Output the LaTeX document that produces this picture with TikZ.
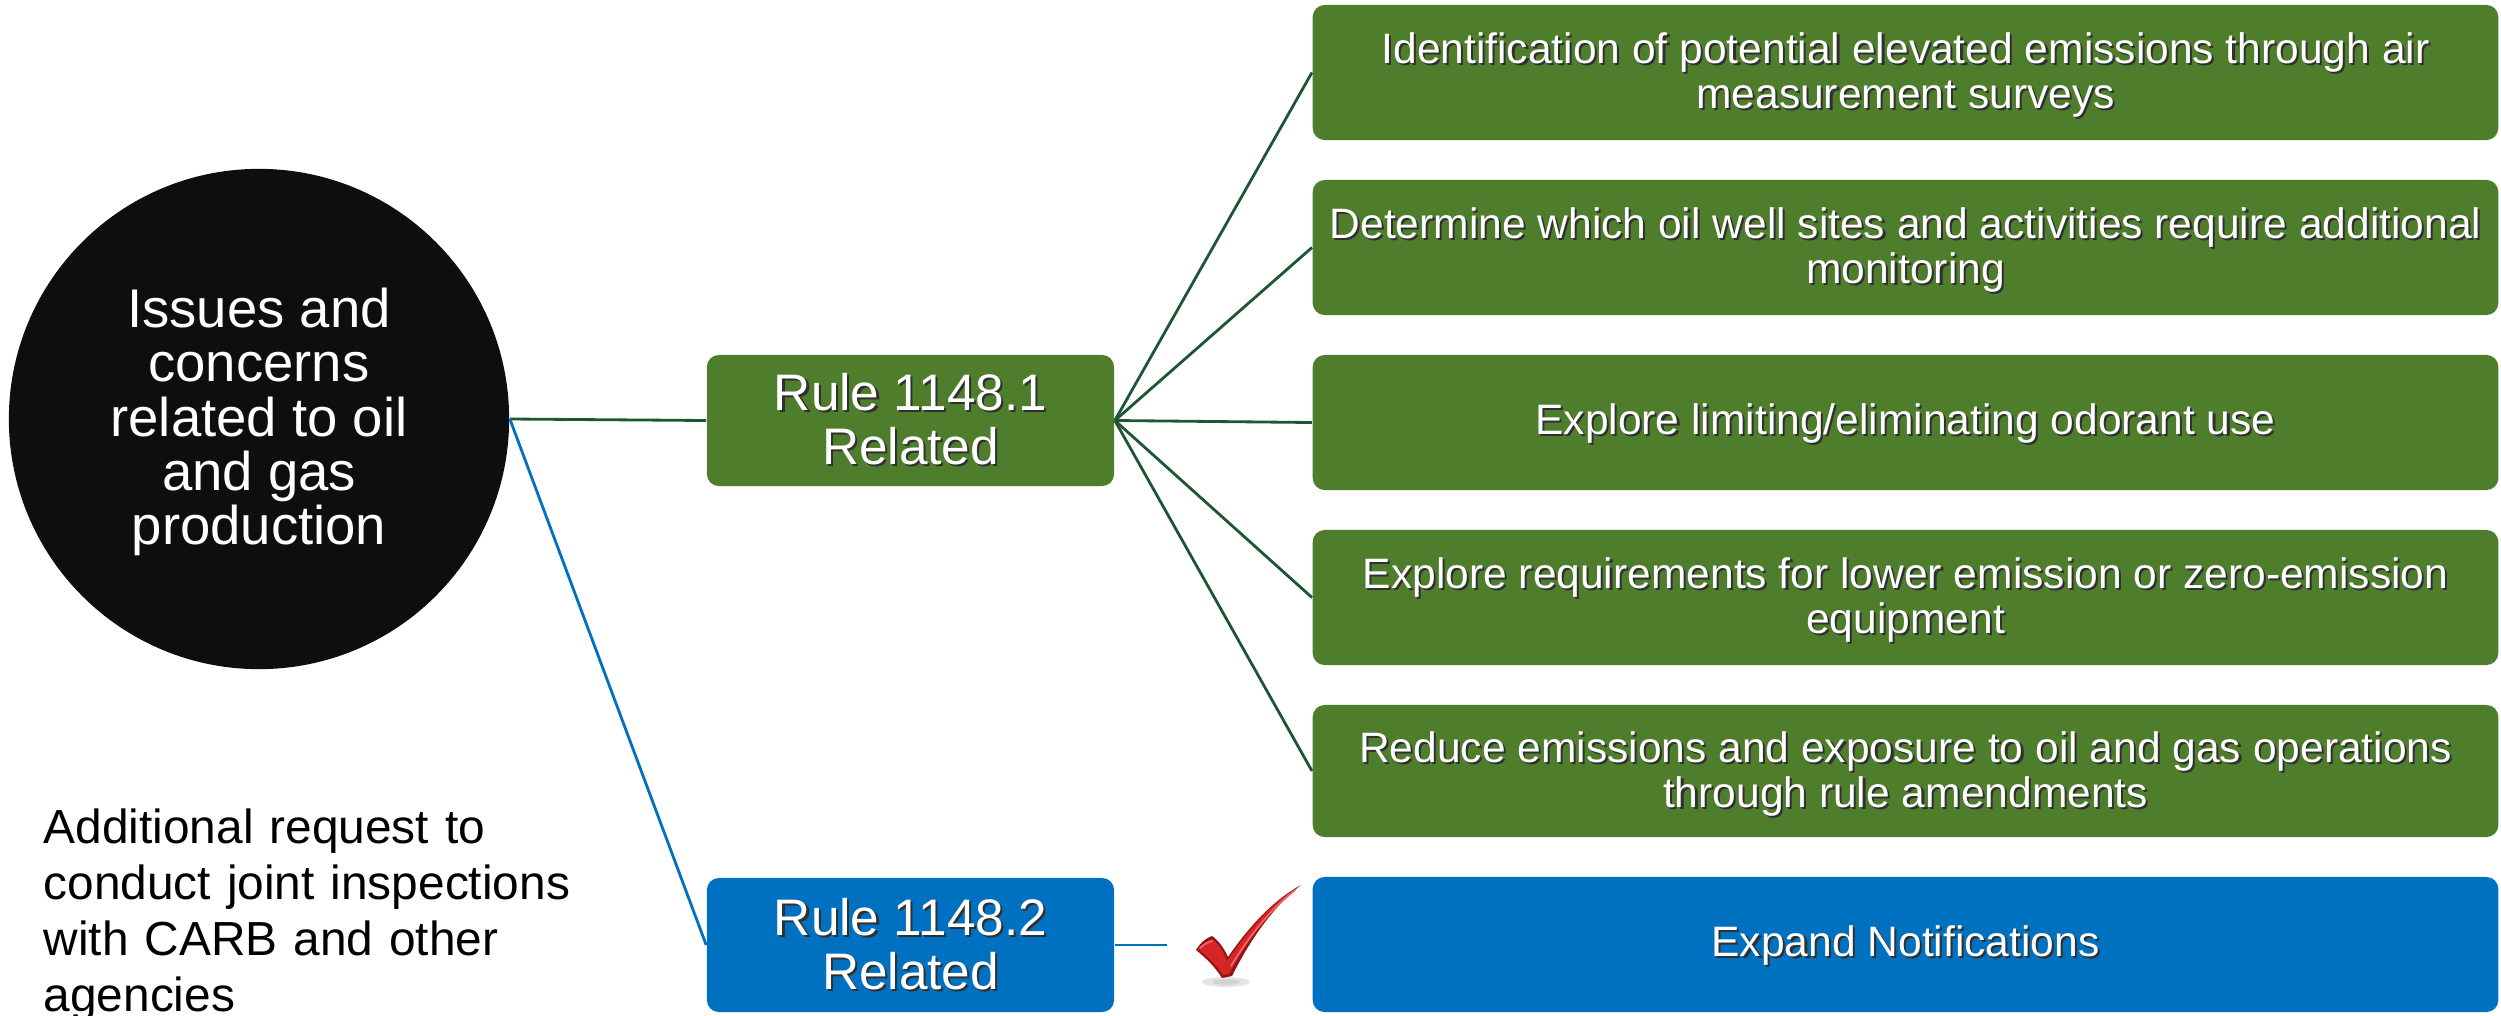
\documentclass[tikz,border=0pt]{standalone}
\usepackage{fontspec}
\setmainfont{Liberation Sans}
\definecolor{boxgreen}{HTML}{4E7D2C}
\definecolor{linegreen}{HTML}{1E5634}
\definecolor{boxblue}{HTML}{0070C0}
\definecolor{circblack}{HTML}{0E0E0E}
\definecolor{shdcol}{HTML}{303030}
\definecolor{chkred}{HTML}{D42626}
\definecolor{chkdark}{HTML}{951212}
\definecolor{chklight}{HTML}{EE6A6A}
\newcommand\shtx[2][0pt]{\leavevmode\raisebox{-#1}[\height][\depth]{\rlap{\hspace{0.6pt}\raisebox{-0.6pt}{\textcolor{shdcol}{#2}}}#2}}
\newcommand\itx[1]{\shtx[1.1pt]{#1}}
\begin{document}
\begin{tikzpicture}[x=0.01cm,y=-0.01cm,
  itembox/.style={fill=boxgreen, rounded corners=0.12cm, text=white, align=center,
    minimum width=11.85cm, minimum height=1.35cm, inner sep=0pt,
    font=\fontsize{12.1}{12.8}\selectfont},
  rulebox/.style={fill=boxgreen, rounded corners=0.12cm, text=white, align=center,
    minimum width=4.07cm, minimum height=1.31cm, inner sep=0pt,
    font=\fontsize{14.6}{15.4}\selectfont},
  gline/.style={draw=linegreen, line width=0.8pt},
  bline/.style={draw=boxblue, line width=0.8pt}]
\useasboundingbox (0,0) rectangle (2501,1015);

% central circle
\node[circle, fill=circblack, minimum size=5.0cm, inner sep=0pt] (c) at (259,419) {};
\node[text=white, align=center, font=\fontsize{15.5}{15.4}\selectfont] (ct) at (259,422)
  {Issues and\\concerns\\related to oil\\and gas\\production};

% rule boxes
\node[rulebox] (r1) at (910.5,420.5) {\shtx{Rule 1148.1}\\\shtx{Related}};
\node[rulebox, fill=boxblue, minimum height=1.34cm] (r2) at (910.5,945) {\shtx{Rule 1148.2}\\\shtx{Related}};

% item boxes
\node[itembox] (b1) at (1905.5,72.5) {\itx{Identification of potential elevated emissions through air}\\\itx{measurement surveys}};
\node[itembox] (b2) at (1905.5,247.5) {\itx{Determine which oil well sites and activities require additional}\\\itx{monitoring}};
\node[itembox] (b3) at (1905.5,422.5) {\shtx[0.6pt]{Explore limiting/eliminating odorant use}};
\node[itembox] (b4) at (1905.5,597.5) {\itx{Explore requirements for lower emission or zero-emission}\\\itx{equipment}};
\node[itembox, minimum height=1.32cm] (b5) at (1905.5,771) {\itx{Reduce emissions and exposure to oil and gas operations}\\\itx{through rule amendments}};
\node[itembox, fill=boxblue] (b6) at (1905.5,944.5) {\shtx[0.6pt]{Expand Notifications}};

% left text
\node[anchor=north west, inner sep=0pt, align=left, text width=6cm,
  font=\fontsize{13.6}{15.9}\selectfont] (note) at (43,808)
  {Additional request to\\conduct joint inspections\\with CARB and other\\agencies};

% connectors
\draw[gline] (c.east) -- (r1.west);
\draw[bline] (c.east) -- (r2.west);
\foreach \b in {b1,b2,b3,b4,b5}{
  \draw[gline] (r1.east) -- (\b.west);
}
\coordinate (ck) at (1167,945);
\draw[bline] (r2.east) -- (ck);

% check mark
\fill[black, opacity=0.10] (1226,982) ellipse (24 and 5);
\fill[black, opacity=0.08] (1226,982) ellipse (14 and 3);
\fill[chkdark] (1196,950) .. controls (1206,958) and (1216,968) .. (1222,978)
  -- (1232,976) .. controls (1250,940) and (1272,908) .. (1301,885)
  .. controls (1275,899) and (1250,925) .. (1228,957)
  .. controls (1224,948) and (1218,940) .. (1212,936)
  .. controls (1206,938) and (1200,943) .. cycle;
\fill[chkred] (1198,949) .. controls (1208,957) and (1217,966) .. (1223,975)
  -- (1229,974) .. controls (1248,939) and (1270,908) .. (1298,887)
  .. controls (1273,902) and (1250,928) .. (1227,961)
  .. controls (1223,950) and (1217,942) .. (1212,939)
  .. controls (1207,941) and (1202,945) .. cycle;
\draw[chklight, line width=0.5pt, line cap=round] (1231,966) .. controls (1250,935) and (1270,910) .. (1294,891);
\draw[chklight, line width=0.5pt, line cap=round] (1200,948) .. controls (1204,944) and (1208,942) .. (1212,941);
\end{tikzpicture}
\end{document}
